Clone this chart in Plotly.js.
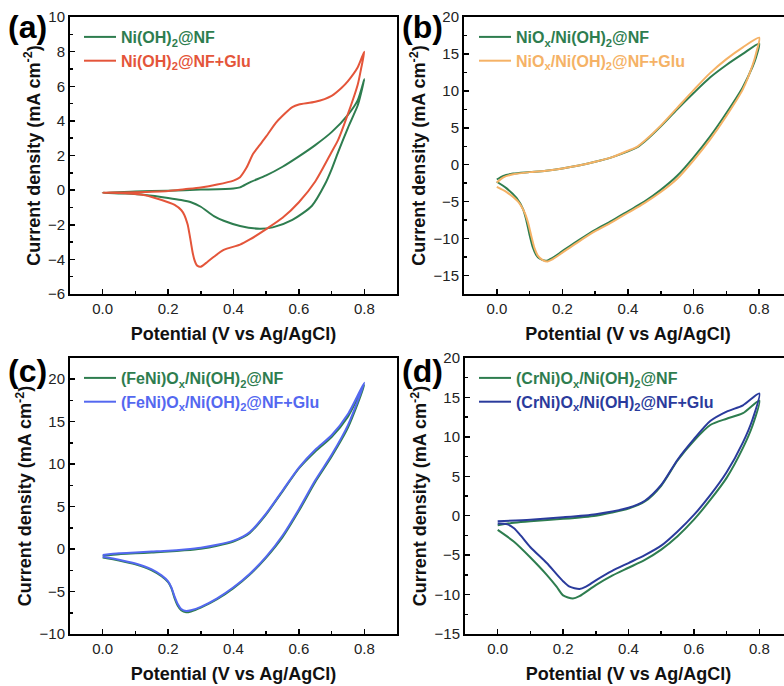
<!DOCTYPE html>
<html>
<head>
<meta charset="utf-8">
<script src="https://cdn.plot.ly/plotly-3.0.1.min.js"></script>
<style>
html,body{margin:0;padding:0;overflow:hidden;background:#fff;width:784px;height:686px;}
#chart{width:800px;height:686px;}
</style>
</head>
<body>
<div id="chart"></div>
<script>
// ---------- Panel (a) ----------
const aGreenV = [0,0.1,0.2,0.3,0.4,0.42,0.45,0.5,0.55,0.6,0.65,0.7,0.75,0.78,0.8,
                 0.79,0.78,0.75,0.72,0.7,0.68,0.64,0.58,0.52,0.48,0.42,0.37,0.34,0.3,0.27,0.24,0.2,0.13,0.07,0];
const aGreenJ = [-0.15,-0.08,-0.03,0.03,0.1,0.16,0.45,0.85,1.35,1.95,2.6,3.35,4.35,5.2,6.4,
                 5.6,4.9,3.6,2.2,1.2,0.35,-0.9,-1.72,-2.15,-2.23,-2.07,-1.77,-1.5,-0.96,-0.7,-0.57,-0.45,-0.28,-0.2,-0.15];
const aRedV = [0,0.1,0.2,0.25,0.3,0.35,0.4,0.42,0.44,0.46,0.48,0.5,0.53,0.55,0.58,0.6,0.65,0.7,0.73,0.75,0.78,0.8,
               0.79,0.78,0.75,0.72,0.7,0.65,0.6,0.55,0.5,0.45,0.42,0.37,0.34,0.32,0.3,0.29,0.285,0.28,0.275,0.27,0.265,0.26,0.255,0.25,0.24,0.22,0.2,0.15,0.13,0.1,0.05,0];
const aRedJ = [-0.15,-0.12,-0.05,0.05,0.15,0.32,0.55,0.75,1.3,2.1,2.6,3.1,3.9,4.3,4.8,4.95,5.1,5.45,5.9,6.3,7.1,8.0,
               7.0,6.1,4.4,2.9,2.2,0.5,-0.7,-1.6,-2.25,-2.85,-3.15,-3.45,-3.85,-4.15,-4.42,-4.38,-4.25,-4.0,-3.6,-3.05,-2.5,-2.0,-1.7,-1.45,-1.15,-0.85,-0.7,-0.4,-0.3,-0.22,-0.17,-0.15];

// ---------- Panel (b) ----------
const bGreenV = [0,0.02,0.05,0.1,0.15,0.2,0.25,0.3,0.35,0.4,0.43,0.45,0.5,0.55,0.6,0.65,0.7,0.75,0.8,
                 0.79,0.78,0.75,0.7,0.65,0.6,0.55,0.5,0.45,0.4,0.35,0.3,0.25,0.2,0.17,0.15,0.13,0.12,0.11,0.1,0.09,0.08,0.06,0.03,0];
const bGreenJ = [-2.0,-1.5,-1.2,-1.0,-0.8,-0.5,-0.1,0.4,1.0,1.8,2.4,3.1,5.2,7.5,9.7,11.8,13.5,15.0,16.4,
                 14.5,13.3,10.5,7.0,3.8,1.0,-1.5,-3.4,-5.0,-6.3,-7.6,-8.8,-10.2,-11.7,-12.6,-13.0,-12.7,-12.2,-11.2,-9.5,-7.5,-6.0,-4.5,-3.2,-2.3];
const bOrangeV = [0,0.02,0.05,0.1,0.15,0.2,0.25,0.3,0.35,0.4,0.43,0.45,0.5,0.55,0.6,0.65,0.7,0.75,0.8,
                  0.79,0.78,0.75,0.7,0.65,0.6,0.55,0.5,0.45,0.4,0.35,0.3,0.25,0.2,0.17,0.155,0.14,0.125,0.115,0.105,0.095,0.085,0.065,0.03,0];
const bOrangeJ = [-2.4,-1.7,-1.3,-1.0,-0.8,-0.5,-0.1,0.4,1.0,1.9,2.5,3.2,5.3,7.7,10.1,12.4,14.3,15.9,17.2,
                  15.0,13.5,10.2,6.6,3.4,0.6,-1.9,-3.7,-5.2,-6.5,-7.8,-9.0,-10.4,-11.9,-12.8,-13.1,-12.9,-12.3,-11.3,-9.6,-7.8,-6.5,-5.0,-3.7,-3.0];

// ---------- Panel (c) ----------
const cGreenV = [0,0.05,0.1,0.15,0.2,0.25,0.3,0.35,0.4,0.43,0.45,0.5,0.55,0.6,0.65,0.7,0.75,0.8,
                 0.75,0.7,0.65,0.6,0.55,0.5,0.45,0.4,0.35,0.3,0.27,0.255,0.24,0.23,0.22,0.21,0.2,0.18,0.15,0.1,0.05,0];
const cGreenJ = [-0.8,-0.6,-0.5,-0.4,-0.3,-0.15,0.05,0.4,0.9,1.4,1.9,4.1,6.8,9.5,11.5,13.2,15.6,19.3,
                 14.3,10.9,7.9,4.5,1.4,-1.0,-3.0,-4.6,-5.9,-6.9,-7.35,-7.45,-7.2,-6.7,-5.8,-4.6,-3.9,-3.2,-2.5,-1.8,-1.35,-1.0];
const cBlueV = [0,0.05,0.1,0.15,0.2,0.25,0.3,0.35,0.4,0.43,0.45,0.5,0.55,0.6,0.65,0.7,0.75,0.8,
                0.75,0.7,0.65,0.6,0.55,0.5,0.45,0.4,0.35,0.3,0.27,0.255,0.24,0.23,0.22,0.21,0.2,0.18,0.15,0.1,0.05,0];
const cBlueJ = [-0.7,-0.5,-0.4,-0.3,-0.2,-0.05,0.15,0.5,1.0,1.5,2.0,4.2,6.9,9.6,11.7,13.4,15.9,19.6,
                14.6,11.1,8.1,4.7,1.6,-0.9,-2.9,-4.5,-5.8,-6.8,-7.2,-7.3,-7.05,-6.5,-5.6,-4.5,-3.8,-3.1,-2.4,-1.7,-1.25,-0.9];

// ---------- Panel (d) ----------
const dGreenV = [0,0.05,0.1,0.2,0.3,0.35,0.4,0.45,0.5,0.55,0.6,0.65,0.7,0.75,0.8,
                 0.78,0.75,0.7,0.65,0.6,0.55,0.5,0.45,0.4,0.35,0.3,0.25,0.23,0.2,0.18,0.15,0.1,0.05,0];
const dGreenJ = [-1.2,-0.9,-0.7,-0.4,0.0,0.4,0.9,1.8,3.8,7.0,9.5,11.5,12.3,13.0,14.6,
                 11.5,8.6,4.8,2.0,-0.5,-2.6,-4.3,-5.6,-6.6,-7.6,-8.8,-10.2,-10.5,-10.1,-9.0,-7.5,-5.3,-3.3,-1.8];
const dBlueV = [0,0.1,0.2,0.3,0.4,0.45,0.5,0.55,0.6,0.65,0.7,0.75,0.8,
                0.78,0.75,0.7,0.65,0.6,0.55,0.5,0.45,0.4,0.35,0.3,0.27,0.25,0.22,0.2,0.18,0.15,0.1,0.07,0.05,0.03,0];
const dBlueJ = [-0.7,-0.5,-0.2,0.2,1.0,1.9,3.9,7.1,9.7,12.0,13.2,14.0,15.5,
                12.3,9.3,5.5,2.6,0.1,-2.0,-3.8,-5.0,-6.0,-7.0,-8.2,-9.0,-9.3,-9.0,-8.3,-7.4,-6.0,-4.0,-2.5,-1.6,-1.1,-1.0];

const GREEN = '#2e7d4f', RED = '#e4553a', ORANGE = '#f5b266', LBLUE = '#5468f0', DBLUE = '#2a3b9c';
const FONT = 'Liberation Sans, Arial, sans-serif';
const W = 800, H = 686;

function nm(t, c){ return '<span style="color:' + c + '">' + t + '</span>'; }
function tr(x, y, c, name, xa, ya, lg){
  return {x:x, y:y, type:'scatter', mode:'lines', line:{color:c, width:2, shape:'spline', smoothing:0.7},
          name:nm(name, c), xaxis:xa, yaxis:ya, legend:lg, legendgroup:name};
}
const data = [
  tr(aGreenV, aGreenJ, GREEN, 'Ni(OH)<sub>2</sub>@NF', 'x', 'y', 'legend'),
  tr(aRedV, aRedJ, RED, 'Ni(OH)<sub>2</sub>@NF+Glu', 'x', 'y', 'legend'),
  tr(bGreenV, bGreenJ, GREEN, 'NiO<sub>x</sub>/Ni(OH)<sub>2</sub>@NF', 'x2', 'y2', 'legend2'),
  tr(bOrangeV, bOrangeJ, ORANGE, 'NiO<sub>x</sub>/Ni(OH)<sub>2</sub>@NF+Glu', 'x2', 'y2', 'legend2'),
  tr(cGreenV, cGreenJ, GREEN, '(FeNi)O<sub>x</sub>/Ni(OH)<sub>2</sub>@NF', 'x3', 'y3', 'legend3'),
  tr(cBlueV, cBlueJ, LBLUE, '(FeNi)O<sub>x</sub>/Ni(OH)<sub>2</sub>@NF+Glu', 'x3', 'y3', 'legend3'),
  tr(dGreenV, dGreenJ, GREEN, '(CrNi)O<sub>x</sub>/Ni(OH)<sub>2</sub>@NF', 'x4', 'y4', 'legend4'),
  tr(dBlueV, dBlueJ, DBLUE, '(CrNi)O<sub>x</sub>/Ni(OH)<sub>2</sub>@NF+Glu', 'x4', 'y4', 'legend4')
];

function px(v){ return v / W; }
function py(v){ return 1 - v / H; }

function xax(l, r, anchor){
  return {domain:[px(l), px(r)], anchor:anchor, range:[-0.1, 0.9], tick0:0, dtick:0.2, tickformat:'.1f',
    ticks:'inside', ticklen:5, tickwidth:1.5, tickcolor:'#000',
    minor:{dtick:0.1, tick0:0, ticks:'inside', ticklen:3, tickwidth:1.5, tickcolor:'#000'},
    showline:true, linecolor:'#000', linewidth:2, mirror:true, showgrid:false, zeroline:false,
    tickfont:{family:FONT, size:15, color:'#222'},
    title:{text:'Potential (V vs Ag/AgCl)', font:{family:FONT, size:18, weight:'bold', color:'#111'}, standoff:11}};
}
function yax(t, b, anchor, range, dt){
  return {domain:[py(b), py(t)], anchor:anchor, range:range, tick0:0, dtick:dt,
    ticks:'inside', ticklen:5, tickwidth:1.5, tickcolor:'#000',
    minor:{dtick:dt/2, ticks:'inside', ticklen:3, tickwidth:1.5, tickcolor:'#000'},
    showline:true, linecolor:'#000', linewidth:2, mirror:true, showgrid:false, zeroline:false,
    tickfont:{family:FONT, size:15, color:'#222'},
    title:{text:'Current density (mA cm<sup>-2</sup>)', font:{family:FONT, size:18, weight:'bold', color:'#111'}, standoff:3}};
}
function leg(xl, yt){
  return {x:px(xl), y:py(yt), xanchor:'left', yanchor:'top', bgcolor:'rgba(0,0,0,0)', borderwidth:0,
    font:{family:FONT, size:16, weight:'bold'}, itemwidth:32, tracegroupgap:0, traceorder:'grouped'};
}
function lab(t, x, y){
  return {text:'<b>' + t + '</b>', xref:'paper', yref:'paper', x:px(x), y:py(y), xanchor:'left', yanchor:'middle',
    showarrow:false, font:{family:FONT, size:32, color:'#000'}};
}

const layout = {
  width:W, height:H, margin:{l:0, r:0, t:0, b:0}, paper_bgcolor:'#fff', plot_bgcolor:'#fff',
  xaxis: xax(70, 397, 'y'),  yaxis: yax(17, 294, 'x', [-6, 10], 2),
  xaxis2: xax(464, 792, 'y2'), yaxis2: yax(17, 294, 'x2', [-17.5, 20], 5),
  xaxis3: xax(70, 397, 'y3'), yaxis3: yax(358, 634, 'x3', [-10, 22.5], 5),
  xaxis4: xax(465, 792, 'y4'), yaxis4: yax(358, 634, 'x4', [-15, 20], 5),
  legend: leg(79, 20), legend2: leg(474, 20), legend3: leg(79, 361), legend4: leg(474, 361),
  annotations:[lab('(a)', 6, 27), lab('(b)', 400, 27), lab('(c)', 6, 371), lab('(d)', 400, 371)]
};
Plotly.newPlot('chart', data, layout, {staticPlot:true, displayModeBar:false});
</script>
</body>
</html>
